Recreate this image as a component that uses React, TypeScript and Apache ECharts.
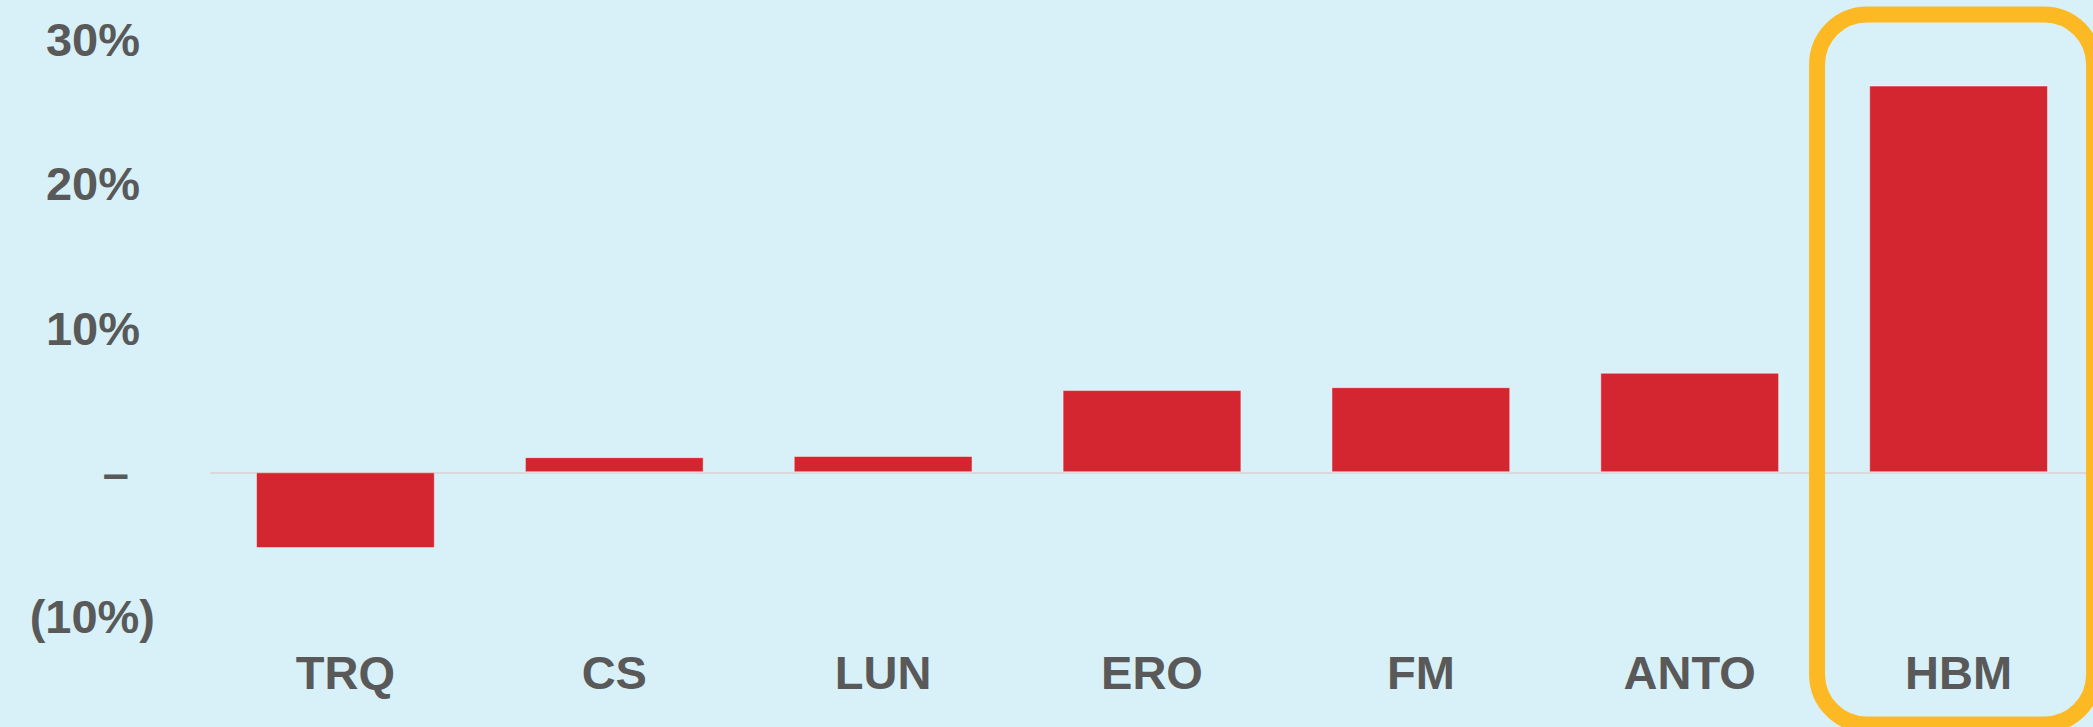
import React, { useEffect, useRef } from "react";
import * as echarts from "echarts";

const categories = ["TRQ", "CS", "LUN", "ERO", "FM", "ANTO", "HBM"];
const values = [-5.25, 1.05, 1.13, 5.7, 5.9, 6.9, 26.8];
const yTicks = { min: -10, max: 30, interval: 10 };
const highlighted = "HBM";

const FONT = "'Liberation Sans', Arial, sans-serif";
const TEXT = "#595959";

export default function App() {
  const ref = useRef<HTMLDivElement>(null);
  useEffect(() => {
    document.body.style.margin = "0";
    const chart = echarts.init(ref.current!, null, { renderer: "svg" });
    const labelBase = { fontFamily: FONT, fontWeight: "bold", fontSize: 47, color: TEXT };
    chart.setOption({
      animation: false,
      backgroundColor: "#D8F1F8",
      grid: { left: 211, right: 0, top: 39.4, bottom: 110.4 },
      xAxis: {
        type: "category",
        data: categories,
        axisLine: { show: true, lineStyle: { color: "#D9D9D9", width: 2 } },
        axisTick: { show: false },
        axisLabel: { ...labelBase, margin: 32, interval: 0 },
      },
      yAxis: {
        type: "value",
        min: yTicks.min,
        max: yTicks.max,
        interval: yTicks.interval,
        splitLine: { show: false },
        axisLine: { show: false },
        axisTick: { show: false },
        axisLabel: {
          ...labelBase,
          margin: 56,
          formatter: (v: number) =>
            v < 0 ? `{n|(${-v}%)}` : v === 0 ? `{z|–}` : `{p|${v}%}`,
          rich: {
            n: { ...labelBase },
            z: { ...labelBase, padding: [0, 26, 0, 0] },
            p: { ...labelBase, padding: [0, 15, 0, 0] },
          },
        },
      },
      series: [
        {
          type: "bar",
          data: values,
          barWidth: "66.5%",
          itemStyle: { color: "#D42630", borderColor: "rgba(255,255,255,0.45)", borderWidth: 1 },
        },
      ],
    });
    const cx = chart.convertToPixel({ xAxisIndex: 0 }, highlighted) as number;
    const w = 277;
    chart.setOption({
      graphic: [
        {
          type: "rect",
          shape: { x: cx - w / 2 - 3, y: 14.5, width: w, height: 710, r: 50 },
          style: { fill: "none", stroke: "#FDB924", lineWidth: 16 },
          z: 100,
        },
      ],
    });
    return () => chart.dispose();
  }, []);
  return <div ref={ref} style={{ width: 2093, height: 727 }} />;
}
